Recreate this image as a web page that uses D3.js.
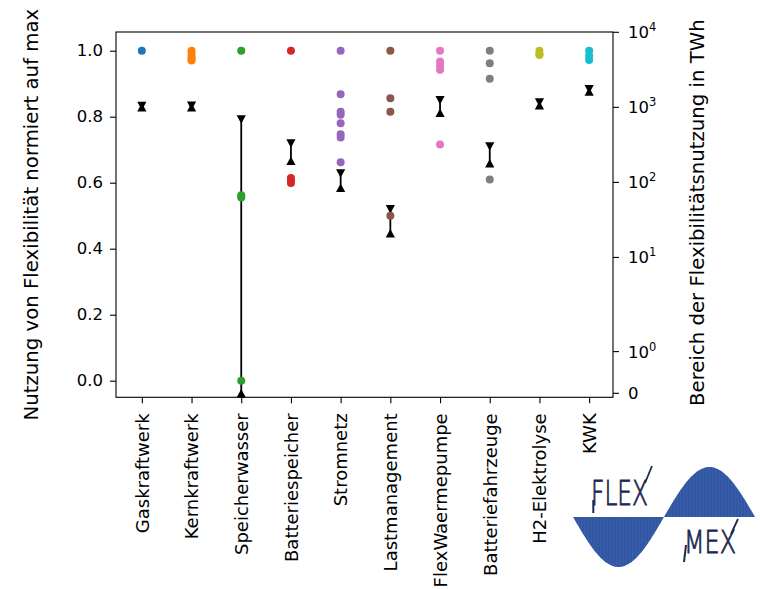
<!DOCTYPE html>
<html>
<head>
<meta charset="utf-8">
<script src="https://cdn.jsdelivr.net/npm/d3@7/dist/d3.min.js"></script>
<style>
  html, body { margin: 0; padding: 0; background: #fff; }
  svg { display: block; }
  text { font-family: "DejaVu Sans", sans-serif; fill: #000; }
</style>
</head>
<body>
<svg id="chart" width="760" height="589"></svg>
<script>
// ---------------- data ----------------
const categories = ["Gaskraftwerk", "Kernkraftwerk", "Speicherwasser", "Batteriespeicher",
  "Stromnetz", "Lastmanagement", "FlexWaermepumpe", "Batteriefahrzeuge", "H2-Elektrolyse", "KWK"];

// normalised use of flexibility per scenario (left axis)
const normUse = [
  [1.0],
  [1.0, 0.99, 0.98, 0.975, 0.97],
  [1.0, 0.562, 0.555, 0.0],
  [1.0, 0.614, 0.606, 0.599],
  [1.0, 0.868, 0.815, 0.806, 0.78, 0.747, 0.737, 0.662],
  [1.0, 0.856, 0.815, 0.50],
  [1.0, 0.967, 0.955, 0.942, 0.716],
  [1.0, 0.962, 0.915, 0.61],
  [1.0, 0.99, 0.987],
  [1.0, 0.985, 0.972]
];

// range of flexibility use in TWh (right axis, symlog)
const rangeMin = [1000, 1000, 0, 194, 85, 21, 850, 180, 1070, 1630];
const rangeMax = [1045, 1050, 690, 330, 131, 44, 1245, 300, 1160, 1740];

const leftTicks = [0, 0.2, 0.4, 0.6, 0.8, 1.0];
const rightTicks = [0, 1, 10, 100, 1000, 10000];
const rightTickExp = [null, "0", "1", "2", "3", "4"];

const colors = d3.schemeCategory10;

// ---------------- layout ----------------
const svg = d3.select("#chart");
const P = { l: 116, r: 613, t: 32, b: 397.3 };

const x = d3.scaleLinear().domain([-0.52, 9.48]).range([P.l, P.r]);
const yL = d3.scaleLinear().domain([0, 1]).range([380.7, 50.7]);

// matplotlib-like symlog transform (linthresh 2, linscale 1)
const LT = 2, LS = 1 / (1 - 1 / 10);
const symT = v => v <= LT ? v * LS : LT * (LS + Math.log10(v / LT));
const yRt = d3.scaleLinear().domain([0, symT(10000)]).range([393.3, 32.3]);
const yR = v => yRt(symT(v));

// ---------------- axes ----------------
const fsTick = 16.5, fsLabel = 19.7;

const gL = svg.append("g").attr("transform", `translate(${P.l},0)`)
  .call(d3.axisLeft(yL).tickValues(leftTicks).tickFormat(d3.format(".1f"))
    .tickSize(6).tickPadding(7));
gL.select(".domain").remove();
gL.selectAll("text").style("font-size", fsTick + "px").style("font-family", "DejaVu Sans");
gL.selectAll("line").attr("stroke", "#000").attr("stroke-width", 1.1);

const gX = svg.append("g").attr("transform", `translate(0,${P.b})`)
  .call(d3.axisBottom(x).tickValues(d3.range(categories.length)).tickFormat(i => categories[i])
    .tickSize(6));
gX.select(".domain").remove();
gX.selectAll("line").attr("stroke", "#000").attr("stroke-width", 1.1);
gX.selectAll("text")
  .attr("y", 0).attr("dy", "0.35em")
  .attr("transform", "translate(0,16) rotate(-90)")
  .attr("text-anchor", "end")
  .style("font-size", "18px").style("font-family", "DejaVu Sans");

// right axis (manual ticks through the symlog scale)
const gR = svg.append("g");
gR.selectAll("line.tk").data(rightTicks).join("line")
  .attr("x1", P.r).attr("x2", P.r + 6)
  .attr("y1", d => yR(d)).attr("y2", d => yR(d))
  .attr("stroke", "#000").attr("stroke-width", 1.1);
const rt = gR.selectAll("text.tl").data(rightTicks).join("text")
  .attr("x", P.r + 15).attr("y", d => yR(d)).attr("dy", "0.36em")
  .style("font-size", fsTick + "px");
rt.each(function (d, i) {
  const t = d3.select(this);
  if (rightTickExp[i] === null) { t.text("0"); return; }
  t.append("tspan").text("10");
  t.append("tspan").attr("dy", "-0.6em").style("font-size", "11.5px").text(rightTickExp[i]);
});

// frame
svg.append("rect").attr("x", P.l).attr("y", P.t).attr("width", P.r - P.l).attr("height", P.b - P.t)
  .attr("fill", "none").attr("stroke", "#000").attr("stroke-width", 1.1);

// axis titles
svg.append("text").attr("transform", `translate(38,${(P.t + P.b) / 2}) rotate(-90)`)
  .attr("text-anchor", "middle").style("font-size", fsLabel + "px")
  .text("Nutzung von Flexibilität normiert auf max");
svg.append("text").attr("transform", `translate(704,${(P.t + P.b) / 2 - 2}) rotate(-90)`)
  .attr("text-anchor", "middle").style("font-size", fsLabel + "px")
  .text("Bereich der Flexibilitätsnutzung in TWh");

// ---------------- range markers (right axis) ----------------
const tw = 4.6, th = 4.25;
const gRange = svg.append("g");
categories.forEach((c, i) => {
  const cx = x(i), yTop = yR(rangeMax[i]), yBot = yR(rangeMin[i]);
  gRange.append("line").attr("x1", cx).attr("x2", cx).attr("y1", yTop).attr("y2", yBot)
    .attr("stroke", "#000").attr("stroke-width", 1.8);
  gRange.append("path")
    .attr("d", `M${cx - tw},${yTop - th}L${cx + tw},${yTop - th}L${cx},${yTop + th}Z`).attr("fill", "#000");
  gRange.append("path")
    .attr("d", `M${cx - tw},${yBot + th}L${cx + tw},${yBot + th}L${cx},${yBot - th}Z`).attr("fill", "#000");
});

// ---------------- scenario dots (left axis) ----------------
const gDots = svg.append("g");
normUse.forEach((vals, i) => {
  gDots.selectAll(null).data(vals).join("circle")
    .attr("cx", x(i)).attr("cy", d => yL(d)).attr("r", 4)
    .attr("fill", colors[i]);
});

// ---------------- FlexMex logo ----------------
const logo = svg.append("g");
const wx0 = 573, wx1 = 755, wy = 517, amp = 50;
const wave = d3.area()
  .x(d => d).y0(wy)
  .y1(d => wy + amp * Math.sin(2 * Math.PI * (d - wx0) / (wx1 - wx0)))
  .curve(d3.curveBasis);
const xs = d3.range(wx0, wx1 + 0.5, 1);
const defs = svg.append("defs");
defs.append("clipPath").attr("id", "waveClip").append("path").attr("d", wave(xs));
logo.append("path").attr("d", wave(xs)).attr("fill", "#3157a4");
logo.append("g").attr("clip-path", "url(#waveClip)")
  .selectAll("line").data(d3.range(wx0 + 2, wx1, 3.2)).join("line")
  .attr("x1", d => d).attr("x2", d => d).attr("y1", 460).attr("y2", 575)
  .attr("stroke", "#ffffff").attr("stroke-opacity", 0.08).attr("stroke-width", 0.8);

const navy = "#1d2850";
logo.append("text").attr("x", 591).attr("y", 505)
  .attr("textLength", 57).attr("lengthAdjust", "spacingAndGlyphs")
  .style("font-size", "34px").style("font-weight", 200).style("fill", navy)
  .style("stroke", navy).style("stroke-width", 0.9)
  .style("font-family", "DejaVu Sans, sans-serif").text("FLEX");
logo.append("line").attr("x1", 593.3).attr("x2", 593.3).attr("y1", 500).attr("y2", 513)
  .attr("stroke", navy).attr("stroke-width", 2);
logo.append("line").attr("x1", 645).attr("x2", 652).attr("y1", 483).attr("y2", 466)
  .attr("stroke", navy).attr("stroke-width", 1.8);

logo.append("text").attr("x", 684).attr("y", 553)
  .attr("textLength", 52).attr("lengthAdjust", "spacingAndGlyphs")
  .style("font-size", "32px").style("font-weight", 200).style("fill", navy)
  .style("stroke", navy).style("stroke-width", 0.9)
  .style("font-family", "DejaVu Sans, sans-serif").text("MEX");
logo.append("line").attr("x1", 686).attr("x2", 684).attr("y1", 545).attr("y2", 562)
  .attr("stroke", navy).attr("stroke-width", 2);
logo.append("line").attr("x1", 731).attr("x2", 738).attr("y1", 534).attr("y2", 519)
  .attr("stroke", navy).attr("stroke-width", 1.8);
</script>
</body>
</html>
